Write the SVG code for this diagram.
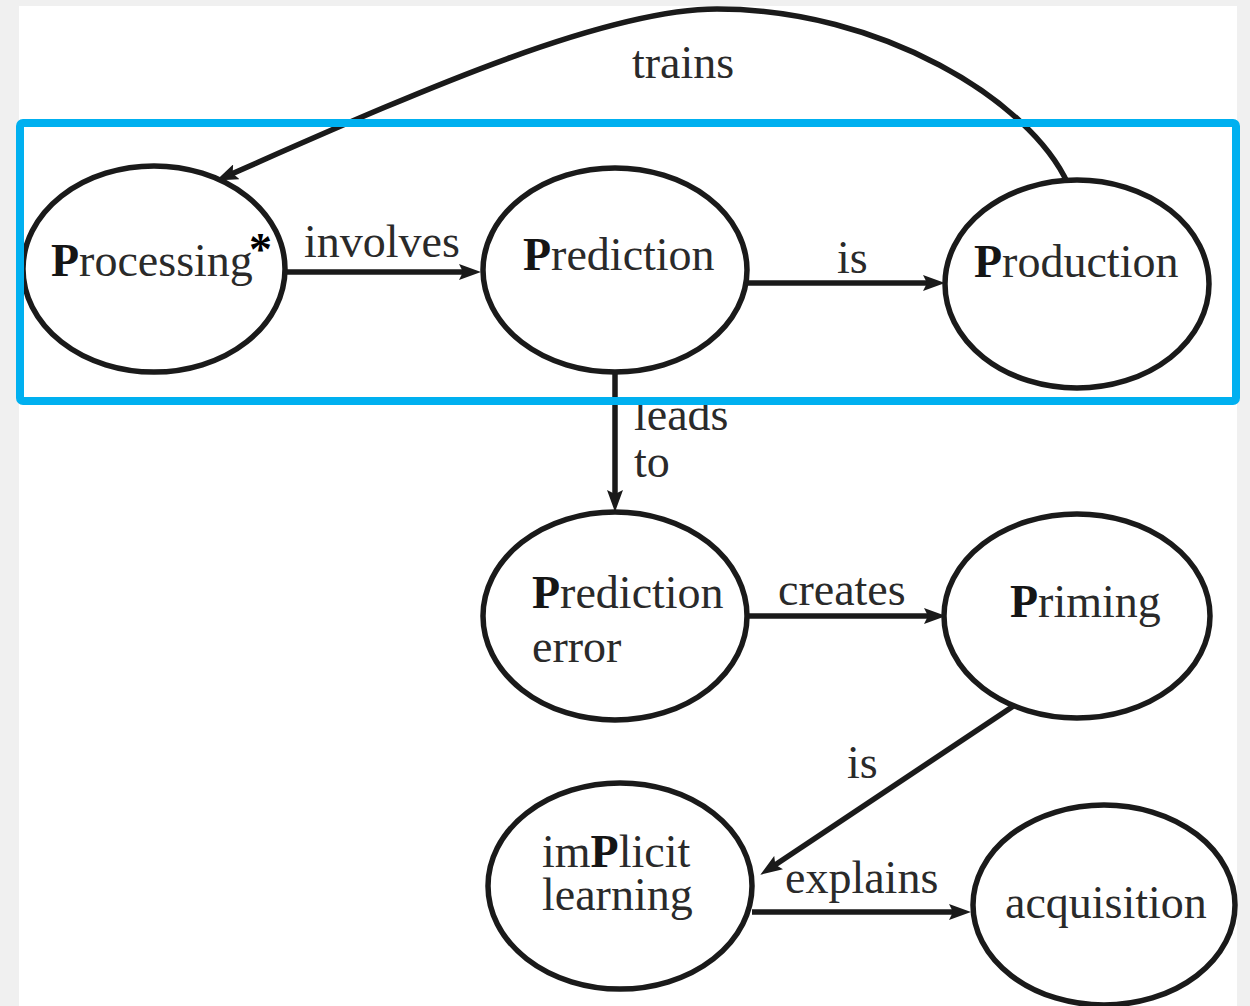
<svg xmlns="http://www.w3.org/2000/svg" width="1250" height="1006" viewBox="0 0 1250 1006">
<style>
.node ellipse{fill:#fff;stroke:#1a1a1a;stroke-width:5.5}
.lbl{font-family:"Liberation Serif","Times New Roman",serif;font-size:46px;fill:#2a2a2a}
.b{font-weight:bold;fill:#151515}
.edge{fill:none;stroke:#1a1a1a;stroke-width:5.5}
</style>
<defs>
<marker id="arr" markerUnits="userSpaceOnUse" viewBox="0 0 22 16" refX="8" refY="8" markerWidth="22" markerHeight="16" orient="auto">
<path d="M0,0 L22,8 L0,16 L4,8 z" fill="#1a1a1a"/>
</marker>
</defs>
<rect x="0" y="0" width="1250" height="1006" fill="#f0f0f0"/>
<rect x="19" y="6" width="1218" height="1000" fill="#fff"/>
<g id="connectors">
<path class="edge" d="M1068,184 C1030,100 880,9 717,9 C600,9 400,100 229,175" marker-end="url(#arr)"/>
<line class="edge" x1="285" y1="272" x2="467" y2="272" marker-end="url(#arr)"/>
<line class="edge" x1="747" y1="283" x2="931" y2="283" marker-end="url(#arr)"/>
<line class="edge" x1="615" y1="372" x2="615" y2="498" marker-end="url(#arr)"/>
<line class="edge" x1="747" y1="616" x2="932" y2="616" marker-end="url(#arr)"/>
<line class="edge" x1="1015" y1="705" x2="772" y2="867" marker-end="url(#arr)"/>
<line class="edge" x1="752" y1="912" x2="957" y2="912" marker-end="url(#arr)"/>
<text class="lbl" x="632" y="78">trains</text>
<text class="lbl" x="304" y="257">involves</text>
<text class="lbl" x="837" y="273">is</text>
<text class="lbl" x="634" y="430">leads</text>
<text class="lbl" x="634" y="477">to</text>
<text class="lbl" x="778" y="605">creates</text>
<text class="lbl" x="847" y="778">is</text>
<text class="lbl" x="785" y="893">explains</text>
</g>
<g id="processing" class="node">
<ellipse cx="154" cy="269" rx="131" ry="103"/>
<text class="lbl" x="51" y="276"><tspan class="b">P</tspan>rocessing</text>
<text class="lbl" x="249" y="265" style="font-weight:bold;fill:#000">*</text>
</g>
<g id="prediction" class="node">
<ellipse cx="615" cy="270" rx="132" ry="102"/>
<text class="lbl" x="523" y="270"><tspan class="b">P</tspan>rediction</text>
</g>
<g id="production" class="node">
<ellipse cx="1077" cy="284" rx="132" ry="104"/>
<text class="lbl" x="974" y="277"><tspan class="b">P</tspan>roduction</text>
</g>
<g id="prediction-error" class="node">
<ellipse cx="615" cy="616" rx="132" ry="104"/>
<text class="lbl" x="532" y="608"><tspan class="b">P</tspan>rediction</text>
<text class="lbl" x="532" y="662">error</text>
</g>
<g id="priming" class="node">
<ellipse cx="1077" cy="616" rx="133" ry="102"/>
<text class="lbl" x="1010" y="617"><tspan class="b">P</tspan>riming</text>
</g>
<g id="implicit-learning" class="node">
<ellipse cx="620" cy="886" rx="132" ry="103"/>
<text class="lbl" x="542" y="867">im<tspan class="b">P</tspan>licit</text>
<text class="lbl" x="542" y="910">learning</text>
</g>
<g id="acquisition" class="node">
<ellipse cx="1104" cy="905" rx="131" ry="100"/>
<text class="lbl" x="1005" y="918">acquisition</text>
</g>
<rect x="20" y="123" width="1216" height="278" rx="3" fill="none" stroke="#00b0f0" stroke-width="8"/>
</svg>
